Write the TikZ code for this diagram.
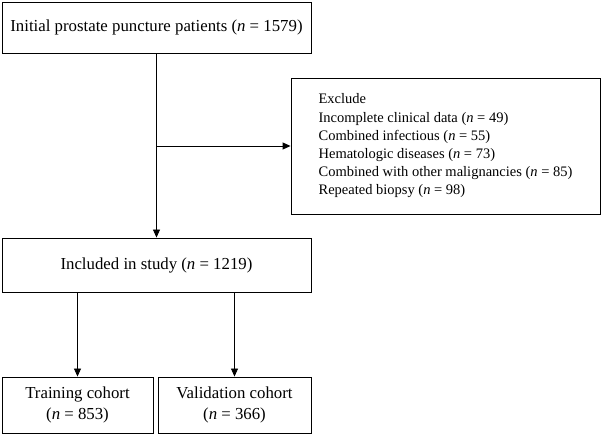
\documentclass[tikz,border=0pt]{standalone}
\usepackage{fontspec}
\setmainfont{Liberation Serif}
\usetikzlibrary{arrows.meta}
\begin{document}
\begin{tikzpicture}[x=1pt,y=1pt,
  box/.style={draw=black, line width=0.9pt, rectangle, inner sep=0pt, align=center,
    font=\fontsize{16.8}{21}\selectfont},
  exbox/.style={draw=black, line width=0.9pt, rectangle, inner sep=0pt, align=left,
    font=\fontsize{14.5}{18.2}\selectfont},
  arr/.style={line width=0.9pt, draw=black, -{Triangle[length=8pt,width=7pt]}}]
\useasboundingbox (0,0) rectangle (601,435);
\node[box, minimum width=309, minimum height=51] (top) at (156.5,407.5)
  {Initial prostate puncture patients (\textit{n} = 1579)};
\node[exbox, minimum width=309, minimum height=136] (excl) at (445.5,289)
  {Exclude\\
   Incomplete clinical data (\textit{n} = 49)\\
   Combined infectious (\textit{n} = 55)\\
   Hematologic diseases (\textit{n} = 73)\\
   Combined with other malignancies (\textit{n} = 85)\\
   Repeated biopsy (\textit{n} = 98)};
\node[box, minimum width=309, minimum height=54] (incl) at (156.5,170)
  {Included in study (\textit{n} = 1219)};
\node[box, minimum width=151, minimum height=56] (train) at (77.5,30)
  {Training cohort\\(\textit{n} = 853)};
\node[box, minimum width=153, minimum height=56] (valid) at (234.5,30)
  {Validation cohort\\(\textit{n} = 366)};
\coordinate (split) at (top.south |- excl.west);
\draw[arr] (top.south) -- (incl.north);
\draw[arr] (split) -- (excl.west);
\draw[arr] (incl.south -| train.north) -- (train.north);
\draw[arr] (incl.south -| valid.north) -- (valid.north);
\end{tikzpicture}
\end{document}
